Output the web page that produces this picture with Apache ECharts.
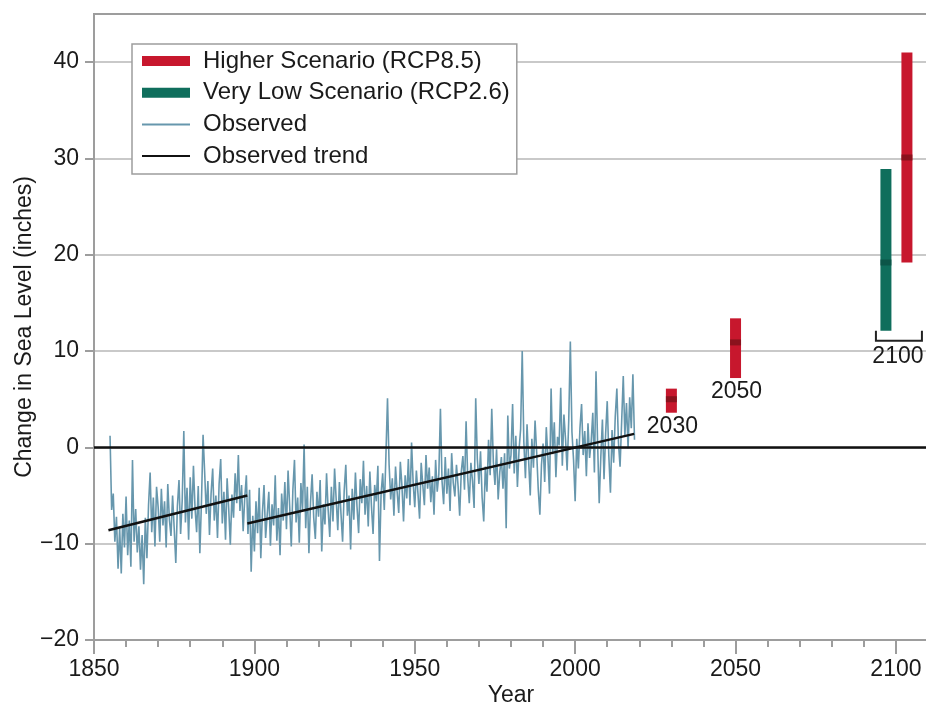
<!DOCTYPE html>
<html>
<head>
<meta charset="utf-8">
<script src="https://cdn.jsdelivr.net/npm/echarts@6/dist/echarts.min.js"></script>
<style>
  html, body { margin: 0; padding: 0; background: #fff; }
  #chart { width: 926px; height: 706px; }
</style>
</head>
<body>
<div id="chart"></div>
<script>
// axis ticks
const xTicks = [1850, 1900, 1950, 2000, 2050, 2100];
const yTicks = [-20, -10, 0, 10, 20, 30, 40];

// observed record, two readings per year from 1855
const obsStart = 1855;
const obsStep = 0.5;
const obsValues = [
  1.2, -6.5, -4.8, -9.8, -7.2, -12.6, -8.4, -13.1, -6.9, -10.4,
  -5.1, -11.2, -7.6, -12.4, -1.3, -9.8, -6.4, -10.9, -8.2, -12.7, -9.1, -14.2, -7.3, -11.5, -6.0, -2.6, -8.8, -5.2, -10.3, -4.1,
  -6.2, -9.8, -4.3, -8.1, -5.6, -10.4, -3.8, -7.5, -9.2, -5.0, -8.4, -12.0, -6.1, -3.4, -9.0, -5.5, 1.7, -7.8, -4.2, -9.6,
  -3.1, -7.4, -1.9, -6.3, -8.8, -4.0, -11.0, -5.7, 1.3, -2.6, -6.9, -3.5, -9.1, -4.8, -2.2, -7.6, -5.0, -9.4, -3.8, -1.2,
  -7.9, -4.6, -9.6, -3.2, -6.4, -10.1, -4.9, -7.3, -2.7, -5.8, -0.8, -6.6, -3.9, -8.7, -5.2, -2.9, -9.0, -4.4, -12.9, -7.1,
  -10.8, -5.6, -8.9, -4.2, -11.5, -6.8, -3.9, -9.4, -7.0, -4.6, -10.2, -5.9, -8.1, -2.9, -9.7, -6.3, -11.2, -4.8, -7.6, -3.6,
  -8.5, -2.4, -6.1, -10.3, -4.4, -1.3, -7.8, -5.2, -9.9, -3.7, -6.6, 0.3, -8.4, -4.1, -11.0, -5.7, -2.8, -7.3, -9.5, -4.6,
  -7.2, -3.4, -10.8, -5.9, -8.0, -2.7, -6.5, -9.3, -4.1, -7.7, -2.2, -5.4, -8.6, -3.6, -6.9, -9.8, -4.5, -1.8, -7.1, -5.0,
  -10.6, -4.3, -7.5, -2.6, -6.2, -8.9, -3.3, -5.8, -1.4, -7.0, -4.0, -8.2, -2.5, -6.1, -9.0, -3.9, -5.6, -1.9, -11.8, -4.8,
  -2.7, -6.5, -0.9, 5.1, -1.8, -5.4, -3.2, -7.1, -2.0, -4.6, -6.8, -1.5, -4.0, -7.7, -2.9, -5.3, -1.2, -6.0, 0.5, -3.7,
  -6.2, -2.4, -4.8, -7.4, -1.6, -3.9, -6.0, -0.8, -4.3, -2.1, -5.7, -3.0, -7.0, -1.3, -4.6, -2.8, 4.0, -3.5, -5.9, -1.0,
  -4.8, -2.2, -6.6, -0.6, -3.7, -5.1, -1.8, -4.0, -7.1, -2.5, -0.9, -4.4, 2.7, -3.1, -5.8, -1.6, -3.5, -6.3, 5.1, -1.2,
  -3.8, -0.4, -5.2, -7.7, -2.0, -4.6, 0.8, -2.9, 4.0, -1.5, -3.9, -0.2, -5.4, -2.6, -1.0, -4.3, -0.6, -8.4, 3.3, -2.2,
  -0.8, 4.5, -2.7, 1.2, -4.1, -0.3, 1.9, 10.0, 0.6, -3.2, 2.4, -1.4, -5.0, 0.9, -2.1, 2.8, -0.5, -4.4, -7.0, -1.8,
  0.4, -3.6, 2.1, -1.0, -4.8, 6.1, -0.7, 2.6, -3.1, 1.1, 0.2, 6.2, -1.9, 3.4, 0.9, -2.4, 2.8, 11.0, 1.6, -1.3,
  -5.6, 0.9, -2.2, 2.0, 4.5, -0.8, 1.7, -3.0, 2.5, -1.1, 0.6, 3.6, -2.6, 7.9, 0.4, -5.8, -1.0, 2.9, -3.3, 1.4,
  4.8, -0.9, -4.7, 1.8, -1.6, 3.2, 6.1, 0.5, -2.0, 2.7, 7.4, 1.2, 4.6, -0.1, 5.2, 2.0, 7.6, 0.8
];

// observed trend, two fitted segments [year, inches]
const trendSegments = [
  [[1854.5, -8.6], [1897.8, -5.0]],
  [[1897.8, -7.9], [2018.4, 1.4]]
];

// projections: low / median / high (inches)
const higherYears = [2030, 2050, 2100];
const higherLow = [3.6, 7.2, 19.2];
const higherMid = [5.0, 10.9, 30.1];
const higherHigh = [6.1, 13.4, 41.0];

const veryLowYears = [2100];
const veryLowLow = [12.1];
const veryLowMid = [19.2];
const veryLowHigh = [28.9];

const periodYears = [2030, 2050, 2100];
const periodLabels = ['2030', '2050', '2100'];
const periodBracket = [false, false, true];

const FONT = '"Liberation Sans", Arial, sans-serif';
const TEXT = '#1a1a1a';
const GREY = '#9d9d9d';
const RED = '#c7172d';
const RED_MID = '#7a1219';
const GREEN = '#0f6e5c';
const GREEN_MID = '#0b4f43';
const OBS = '#6797ad';
const BAR_W = 11;
const LINE_ICON = 'path://M0,0h0.2v0.2h-0.2z M0,4h48v2h-48z M47.8,9.8h0.2v0.2h-0.2z';

// px shift of the two 2100 bars so they sit side by side
const higherDodge = { 2100: 11 };
const veryLowDodge = { 2100: -10 };

const obsData = obsValues.map((v, i) => [obsStart + i * obsStep, v]);
const trendData = [];
trendSegments.forEach((seg, i) => {
  if (i > 0) trendData.push([seg[0][0], null]);
  seg.forEach(p => trendData.push(p));
});
const higherData = higherYears.map((y, i) => [y, higherLow[i], higherMid[i], higherHigh[i]]);
const veryLowData = veryLowYears.map((y, i) => [y, veryLowLow[i], veryLowMid[i], veryLowHigh[i]]);
const periodData = periodYears.map((y, i) => {
  const lows = [];
  higherYears.forEach((hy, j) => { if (hy === y) lows.push(higherLow[j]); });
  veryLowYears.forEach((vy, j) => { if (vy === y) lows.push(veryLowLow[j]); });
  return [y, Math.min.apply(null, lows), periodBracket[i] ? 1 : 0];
});

const minus = v => String(v).replace('-', '\u2212');

function rangeRenderer(fill, midFill, dodge) {
  return function (params, api) {
    const yr = api.value(0);
    const lo = api.coord([yr, api.value(1)]);
    const mid = api.coord([yr, api.value(2)]);
    const hi = api.coord([yr, api.value(3)]);
    const cx = lo[0] + (dodge[yr] || 0);
    return {
      type: 'group',
      children: [
        { type: 'rect', shape: { x: cx - BAR_W / 2, y: hi[1], width: BAR_W, height: lo[1] - hi[1] }, style: { fill: fill } },
        { type: 'rect', shape: { x: cx - BAR_W / 2, y: mid[1] - 3, width: BAR_W, height: 6 }, style: { fill: midFill, opacity: 0.8 } }
      ]
    };
  };
}

function periodRenderer(params, api) {
  const base = api.coord([api.value(0), api.value(1)]);
  const bracket = api.value(2) === 1;
  const cx = base[0] + (bracket ? 2 : 1);
  const children = [];
  let ty = base[1] + 14;
  if (bracket) {
    const by = base[1] + 10;
    children.push({
      type: 'polyline',
      shape: { points: [[cx - 22, base[1]], [cx - 22, by], [cx + 24, by], [cx + 24, base[1]]] },
      style: { stroke: '#222', lineWidth: 2, fill: null }
    });
    ty = base[1] + 26;
  }
  children.push({
    type: 'text',
    style: {
      text: periodLabels[params.dataIndex], x: cx, y: ty,
      fontSize: 23, fontFamily: FONT, fill: TEXT, align: 'center', verticalAlign: 'middle'
    }
  });
  return { type: 'group', children: children };
}

const chart = echarts.init(document.getElementById('chart'));
chart.setOption({
  animation: false,
  backgroundColor: '#fff',
  textStyle: { fontFamily: FONT },
  grid: {
    left: 94, right: -2, top: 14, bottom: 66,
    outerBoundsMode: 'none', containLabel: false,
    show: true, borderColor: GREY, borderWidth: 2
  },
  legend: {
    orient: 'vertical',
    left: 132,
    top: 44,
    padding: [5, 7, 6, 10],
    itemGap: 7.7,
    itemWidth: 48,
    itemHeight: 10,
    backgroundColor: '#fff',
    borderColor: GREY,
    borderWidth: 1.5,
    selectedMode: false,
    textStyle: { fontSize: 24, color: TEXT, fontFamily: FONT, lineHeight: 24, padding: [0, 0, 0, 8] },
    data: [
      { name: 'Higher Scenario (RCP8.5)', icon: 'rect', itemStyle: { color: RED, borderWidth: 0 } },
      { name: 'Very Low Scenario (RCP2.6)', icon: 'rect', itemStyle: { color: GREEN, borderWidth: 0 } },
      { name: 'Observed', icon: LINE_ICON, itemStyle: { color: OBS, borderWidth: 0 } },
      { name: 'Observed trend', icon: LINE_ICON, itemStyle: { color: '#111', borderWidth: 0 } }
    ]
  },
  xAxis: [
    {
      type: 'value', min: 1850, max: 2110, interval: 10, position: 'bottom',
      axisLine: { show: true, onZero: false, lineStyle: { color: GREY, width: 2 } },
      axisTick: { show: true, length: 7, lineStyle: { color: GREY, width: 2 } },
      axisLabel: { show: false },
      splitLine: { show: false }
    },
    {
      type: 'value', min: 1850, max: 2110, interval: 50, position: 'bottom',
      name: 'Year', nameLocation: 'middle', nameGap: 44, nameMoveOverlap: false,
      nameTextStyle: { fontSize: 23, color: TEXT, fontFamily: FONT },
      axisLine: { show: false, onZero: false },
      axisTick: { show: true, length: 14, customValues: xTicks, lineStyle: { color: GREY, width: 2 } },
      axisLabel: {
        fontSize: 23, color: TEXT, margin: 18, customValues: xTicks,
        formatter: v => (xTicks.indexOf(v) >= 0 ? String(v) : '')
      },
      splitLine: { show: false }
    }
  ],
  yAxis: {
    type: 'value', min: -20, max: 45, interval: 10,
    name: 'Change in Sea Level (inches)', nameLocation: 'middle', nameGap: 58, nameMoveOverlap: false,
    nameTextStyle: { fontSize: 23, color: TEXT, fontFamily: FONT },
    axisLine: { show: true, onZero: false, lineStyle: { color: GREY, width: 2 } },
    axisTick: { show: true, length: 9, customValues: yTicks, lineStyle: { color: GREY, width: 2 } },
    axisLabel: {
      fontSize: 23, color: TEXT, margin: 15, customValues: yTicks,
      formatter: v => (yTicks.indexOf(v) >= 0 ? minus(v) : '')
    },
    splitLine: { show: true, lineStyle: { color: '#c9c9c9', width: 2 } }
  },
  series: [
    {
      name: 'Observed',
      type: 'line',
      data: obsData,
      symbol: 'none',
      lineStyle: { color: OBS, width: 1.6 },
      itemStyle: { color: OBS },
      markLine: {
        silent: true,
        symbol: ['none', 'none'],
        label: { show: false },
        lineStyle: { color: '#111', width: 2.5, type: 'solid' },
        data: [{ yAxis: 0 }]
      }
    },
    {
      name: 'Observed trend',
      type: 'line',
      data: trendData,
      symbol: 'none',
      connectNulls: false,
      lineStyle: { color: '#111', width: 2.5 },
      itemStyle: { color: '#111' }
    },
    {
      name: 'Higher Scenario (RCP8.5)',
      type: 'custom',
      data: higherData,
      encode: { x: 0, y: [1, 3] },
      itemStyle: { color: RED },
      renderItem: rangeRenderer(RED, RED_MID, higherDodge)
    },
    {
      name: 'Very Low Scenario (RCP2.6)',
      type: 'custom',
      data: veryLowData,
      encode: { x: 0, y: [1, 3] },
      itemStyle: { color: GREEN },
      renderItem: rangeRenderer(GREEN, GREEN_MID, veryLowDodge)
    },
    {
      name: 'periods',
      type: 'custom',
      data: periodData,
      encode: { x: 0, y: 1 },
      silent: true,
      renderItem: periodRenderer
    }
  ]
});
</script>
</body>
</html>
